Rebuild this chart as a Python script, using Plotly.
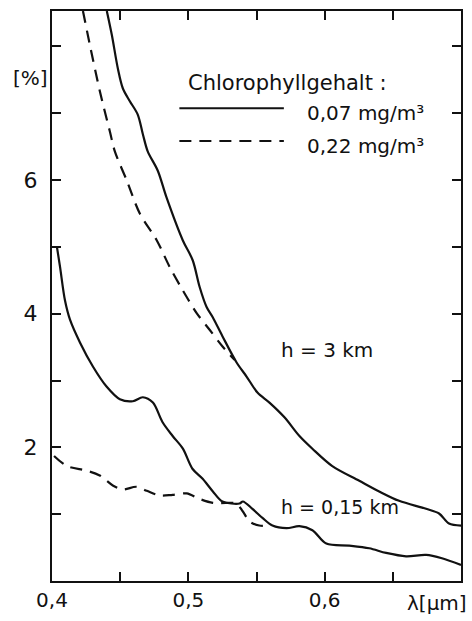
import plotly.graph_objects as go

# wavelength [um] and reflectance-like percentage values
wl_3km_007 = [0.4402, 0.4439, 0.4483, 0.4520, 0.4571, 0.4629, 0.4666, 0.4702, 0.4776, 0.4840,
              0.4959, 0.5032, 0.5083, 0.5134, 0.5178, 0.5251, 0.5354, 0.5427, 0.5507, 0.5595,
              0.5705, 0.5815, 0.5910, 0.6056, 0.6254, 0.6400, 0.6546, 0.6744, 0.6839, 0.6912, 0.7000]
val_3km_007 = [8.53, 8.17, 7.67, 7.37, 7.18, 6.98, 6.69, 6.43, 6.14, 5.74,
               5.10, 4.80, 4.40, 4.10, 3.95, 3.66, 3.27, 3.06, 2.82, 2.67,
               2.45, 2.17, 1.98, 1.72, 1.50, 1.34, 1.20, 1.08, 1.01, 0.86, 0.83]

wl_3km_022 = [0.4227, 0.4278, 0.4351, 0.4424, 0.4461, 0.4549, 0.4644, 0.4768, 0.4863,
              0.4959, 0.5061, 0.5156, 0.5251, 0.5339]
val_3km_022 = [8.53, 8.02, 7.33, 6.73, 6.43, 5.99, 5.50, 5.10, 4.70,
               4.35, 4.01, 3.76, 3.51, 3.31]

wl_015km_007 = [0.4037, 0.4059, 0.4095, 0.4132, 0.4205, 0.4300, 0.4400, 0.4498, 0.4593, 0.4666,
                0.4740, 0.4810, 0.4885, 0.4960, 0.5030, 0.5105, 0.5180, 0.5250, 0.5376, 0.5400,
                0.5470, 0.5546, 0.5617, 0.5720, 0.5815, 0.5910, 0.6012, 0.6180, 0.6327, 0.6451,
                0.6597, 0.6744, 0.6860, 0.7000]
val_015km_007 = [4.99, 4.70, 4.20, 3.91, 3.57, 3.21, 2.91, 2.72, 2.69, 2.75,
                 2.67, 2.38, 2.17, 1.98, 1.68, 1.53, 1.34, 1.19, 1.16, 1.19,
                 1.08, 0.94, 0.83, 0.79, 0.82, 0.76, 0.56, 0.53, 0.49, 0.42,
                 0.37, 0.39, 0.34, 0.24]

wl_015km_022 = [0.4015, 0.4110, 0.4256, 0.4350, 0.4446, 0.4520, 0.4620, 0.4695, 0.4790, 0.4885,
                0.4988, 0.5080, 0.5180, 0.5325, 0.5354, 0.5400, 0.5450, 0.5520, 0.5595]
val_015km_022 = [1.87, 1.72, 1.65, 1.58, 1.43, 1.37, 1.41, 1.35, 1.28, 1.29,
                 1.31, 1.23, 1.17, 1.17, 1.16, 1.04, 0.89, 0.83, 0.83]

x_tickvals = [0.4, 0.45, 0.5, 0.55, 0.6, 0.65, 0.7]
x_ticktext = ["0,4", "", "0,5", "", "0,6", "", ""]
y_tickvals = [0, 1, 2, 3, 4, 5, 6, 7, 8]
y_ticktext = ["", "", "2", "", "4", "", "6", "", ""]

FONT = "DejaVu Sans"
BLACK = "#111111"
DASH = "12px,8px"

fig = go.Figure()
line_solid = dict(color=BLACK, width=2.2, shape="spline", smoothing=0.9)
line_dash = dict(color=BLACK, width=2.2, dash=DASH, shape="spline", smoothing=0.9)

fig.add_trace(go.Scatter(x=wl_3km_007, y=val_3km_007, mode="lines", line=line_solid,
                         name="0,07 mg/m³", showlegend=False))
fig.add_trace(go.Scatter(x=wl_3km_022, y=val_3km_022, mode="lines", line=line_dash,
                         name="0,22 mg/m³", showlegend=False))
fig.add_trace(go.Scatter(x=wl_015km_007, y=val_015km_007, mode="lines", line=line_solid,
                         name="0,07 mg/m³", showlegend=False))
fig.add_trace(go.Scatter(x=wl_015km_022, y=val_015km_022, mode="lines", line=line_dash,
                         name="0,22 mg/m³", showlegend=False))

axis_common = dict(showgrid=False, zeroline=False, showline=True, linecolor=BLACK, linewidth=2,
                   mirror="allticks", ticks="inside", ticklen=9, tickwidth=2, tickcolor=BLACK)

fig.update_xaxes(range=[0.4, 0.7], tickvals=x_tickvals, ticktext=x_ticktext,
                 tickfont=dict(family=FONT, size=20, color=BLACK), **axis_common)
fig.update_yaxes(range=[0, 8.53], tickvals=y_tickvals, ticktext=y_ticktext,
                 tickfont=dict(family=FONT, size=22, color=BLACK), ticklabelstandoff=8,
                 **axis_common)

# legend drawn inside the plot
fig.add_annotation(xref="paper", yref="paper", x=(187 - 52) / 411, y=(583 - 82) / 574,
                   text="Chlorophyllgehalt :", showarrow=False, xanchor="left", yanchor="middle",
                   font=dict(family=FONT, size=21, color=BLACK))
fig.add_shape(type="line", xref="paper", yref="paper", x0=(180 - 52) / 411, x1=(285 - 52) / 411,
              y0=(583 - 107) / 574, y1=(583 - 107) / 574, line=dict(color=BLACK, width=2))
fig.add_shape(type="line", xref="paper", yref="paper", x0=(180 - 52) / 411, x1=(285 - 52) / 411,
              y0=(583 - 140) / 574, y1=(583 - 140) / 574, line=dict(color=BLACK, width=2, dash=DASH))
fig.add_annotation(xref="paper", yref="paper", x=(306 - 52) / 411, y=(583 - 112) / 574,
                   text="0,07 mg/m³", showarrow=False, xanchor="left", yanchor="middle",
                   font=dict(family=FONT, size=20, color=BLACK))
fig.add_annotation(xref="paper", yref="paper", x=(306 - 52) / 411, y=(583 - 145) / 574,
                   text="0,22 mg/m³", showarrow=False, xanchor="left", yanchor="middle",
                   font=dict(family=FONT, size=20, color=BLACK))

fig.add_annotation(x=0.5668, y=3.46, text="h = 3 km", showarrow=False, xanchor="left",
                   yanchor="middle", font=dict(family=FONT, size=20, color=BLACK))
fig.add_annotation(x=0.5668, y=1.10, text="h = 0,15 km", showarrow=False, xanchor="left",
                   yanchor="middle", font=dict(family=FONT, size=19, color=BLACK))

fig.add_annotation(xref="paper", yref="y", x=-0.005, y=7.52, text="[%]", showarrow=False,
                   xanchor="right", yanchor="middle", font=dict(family=FONT, size=20, color=BLACK))
fig.add_annotation(xref="paper", yref="paper", x=(471 - 52) / 411, y=-(605 - 583) / 574,
                   text="λ[μm]", showarrow=False, xanchor="right", yanchor="middle",
                   font=dict(family=FONT, size=20, color=BLACK))

fig.update_layout(width=472, height=621, margin=dict(l=52, r=9, t=9, b=38),
                  plot_bgcolor="white", paper_bgcolor="white", showlegend=False,
                  font=dict(family=FONT, color=BLACK))

fig.write_html("out.html")
